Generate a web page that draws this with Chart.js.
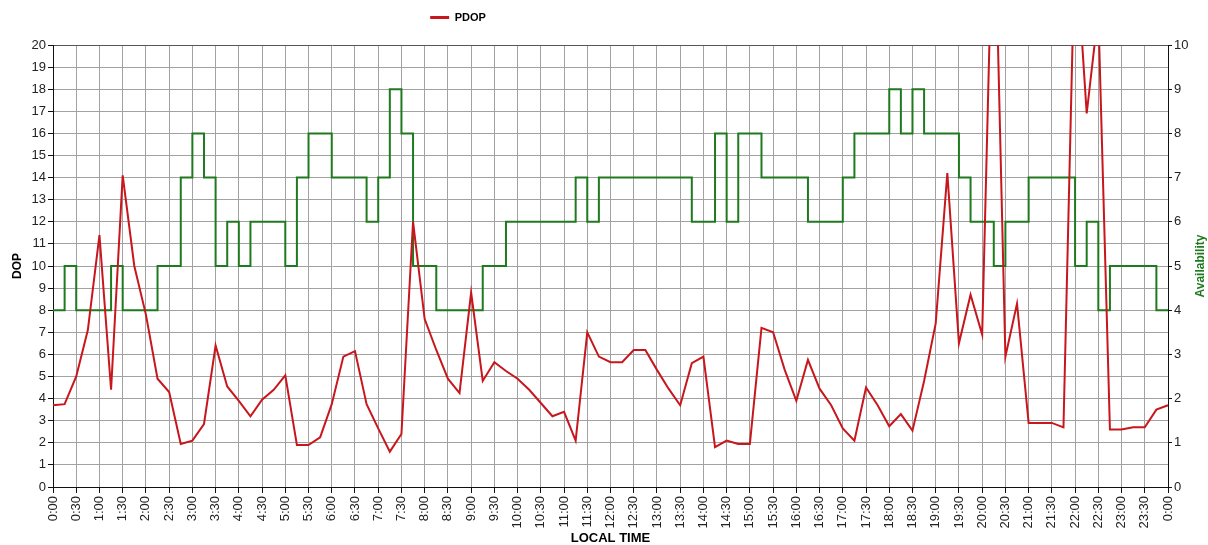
<!DOCTYPE html>
<html>
<head>
<meta charset="utf-8">
<script src="https://cdn.jsdelivr.net/npm/chart.js@4.4.1/dist/chart.umd.min.js"></script>
<style>
  html, body { margin: 0; padding: 0; background: #fff; }
  #wrap { width: 1208px; height: 545px; }
</style>
</head>
<body>
<div id="wrap"><canvas id="chart" width="1208" height="545"></canvas></div>
<script>
"use strict";

// local time, every 15 minutes (labels shown every 30 minutes)
const timeLabels = [
    "0:00", "0:15", "0:30", "0:45", "1:00", "1:15", "1:30", "1:45",
    "2:00", "2:15", "2:30", "2:45", "3:00", "3:15", "3:30", "3:45",
    "4:00", "4:15", "4:30", "4:45", "5:00", "5:15", "5:30", "5:45",
    "6:00", "6:15", "6:30", "6:45", "7:00", "7:15", "7:30", "7:45",
    "8:00", "8:15", "8:30", "8:45", "9:00", "9:15", "9:30", "9:45",
    "10:00", "10:15", "10:30", "10:45", "11:00", "11:15", "11:30", "11:45",
    "12:00", "12:15", "12:30", "12:45", "13:00", "13:15", "13:30", "13:45",
    "14:00", "14:15", "14:30", "14:45", "15:00", "15:15", "15:30", "15:45",
    "16:00", "16:15", "16:30", "16:45", "17:00", "17:15", "17:30", "17:45",
    "18:00", "18:15", "18:30", "18:45", "19:00", "19:15", "19:30", "19:45",
    "20:00", "20:15", "20:30", "20:45", "21:00", "21:15", "21:30", "21:45",
    "22:00", "22:15", "22:30", "22:45", "23:00", "23:15", "23:30", "23:45",
    "0:00"
];

// PDOP (left axis)
const pdop = [
    3.7, 3.75, 5.0, 7.1,
    11.4, 4.4, 14.1, 10.0,
    7.8, 4.9, 4.3, 1.95,
    2.1, 2.85, 6.4, 4.55,
    3.9, 3.2, 3.95, 4.4,
    5.05, 1.9, 1.9, 2.25,
    3.75, 5.9, 6.15, 3.75,
    2.65, 1.6, 2.4, 12.0,
    7.6, 6.2, 4.9, 4.25,
    8.8, 4.8, 5.65, 5.25,
    4.9, 4.4, 3.8, 3.2,
    3.4, 2.1, 7.0, 5.9,
    5.65, 5.65, 6.2, 6.2,
    5.3, 4.45, 3.7, 5.6,
    5.9, 1.8, 2.1, 1.95,
    1.95, 7.2, 7.0, 5.3,
    3.9, 5.75, 4.45, 3.7,
    2.65, 2.1, 4.5, 3.7,
    2.75, 3.3, 2.55, 4.8,
    7.4, 14.2, 6.5, 8.7,
    6.9, 28, 5.9, 8.3,
    2.9, 2.9, 2.9, 2.7,
    25, 16.9, 21.5, 2.6,
    2.6, 2.7, 2.7, 3.5,
    3.7
];

// satellites available (right axis)
const availability = [
    4, 5, 4, 4,
    4, 5, 4, 4,
    4, 5, 5, 7,
    8, 7, 5, 6,
    5, 6, 6, 6,
    5, 7, 8, 8,
    7, 7, 7, 6,
    7, 9, 8, 5,
    5, 4, 4, 4,
    4, 5, 5, 6,
    6, 6, 6, 6,
    6, 7, 6, 7,
    7, 7, 7, 7,
    7, 7, 7, 6,
    6, 8, 6, 8,
    8, 7, 7, 7,
    7, 6, 6, 6,
    7, 8, 8, 8,
    9, 8, 9, 8,
    8, 8, 7, 6,
    6, 5, 6, 6,
    7, 7, 7, 7,
    5, 6, 4, 5,
    5, 5, 5, 4,
    4
];

const RED = "#c8161d";
const GREEN = "#1f7a1f";
const GRID = "#a2a2a2";
const AXIS = "#111";
const FONT = "'Liberation Sans', Arial, sans-serif";
const HIDDEN = "rgba(0,0,0,0)";

Chart.defaults.font.family = FONT;
Chart.defaults.color = "#222";

// right axis title reads bottom-to-top like the left one
const availabilityTitle = {
    id: "availabilityTitle",
    afterDraw(chart) {
        const ctx = chart.ctx;
        const area = chart.chartArea;
        ctx.save();
        ctx.translate(1201, (area.top + area.bottom) / 2);
        ctx.rotate(-Math.PI / 2);
        ctx.font = "bold 12px " + FONT;
        ctx.fillStyle = GREEN;
        ctx.textAlign = "center";
        ctx.textBaseline = "middle";
        ctx.fillText("Availability", 0, 0);
        ctx.restore();
    }
};

// legend sits left of the centre and a bit above the padded top in the original
const legendShift = {
    id: "legendShift",
    afterLayout(chart) {
        const lg = chart.legend;
        lg.left -= 146;
        lg.right -= 146;
        lg.top -= 12;
        lg.bottom -= 12;
    }
};

new Chart(document.getElementById("chart"), {
    type: "line",
    data: {
        labels: timeLabels,
        datasets: [
            {
                label: "PDOP",
                data: pdop,
                yAxisID: "y",
                borderColor: RED,
                backgroundColor: RED,
                borderWidth: 2,
                tension: 0,
                pointRadius: 0,
                pointBorderWidth: 3,
                pointBorderColor: RED,
                fill: false,
            },
            {
                label: "Availability",
                data: availability,
                yAxisID: "y1",
                borderColor: GREEN,
                backgroundColor: GREEN,
                borderWidth: 2,
                stepped: true,
                pointRadius: 0,
                fill: false,
            },
        ],
    },
    options: {
        responsive: false,
        animation: false,
        devicePixelRatio: 1,
        layout: { padding: { top: 13, left: 0, right: 0, bottom: 0 } },
        scales: {
            x: {
                type: "category",
                offset: false,
                border: { color: AXIS, width: 1 },
                grid: {
                    color: (c) => (c.index % 2 ? HIDDEN : GRID),
                    tickColor: (c) => (c.index % 2 ? HIDDEN : AXIS),
                    tickLength: 6,
                },
                ticks: {
                    autoSkip: false,
                    maxRotation: 90,
                    minRotation: 90,
                    padding: 3,
                    font: { size: 13 },
                    callback: function (value, index) {
                        return index % 2 ? "" : timeLabels[index];
                    },
                },
                title: {
                    display: true,
                    text: "LOCAL TIME",
                    color: "#000",
                    padding: 0,
                    font: { size: 13, weight: "bold", lineHeight: 1 },
                },
                afterFit: (s) => { s.height = 58; },
            },
            y: {
                position: "left",
                min: 0,
                max: 20,
                border: { color: AXIS, width: 1 },
                grid: {
                    color: (c) => (c.tick && c.tick.value === 20 ? "#555" : GRID),
                    tickColor: AXIS,
                    tickLength: 5,
                },
                ticks: { stepSize: 1, padding: 2, font: { size: 13 } },
                title: {
                    display: true,
                    text: "DOP",
                    color: "#000",
                    padding: { top: 10, bottom: 0 },
                    font: { size: 12, weight: "bold" },
                },
                afterFit: (s) => { s.width = 53; },
            },
            y1: {
                position: "right",
                min: 0,
                max: 10,
                border: { color: AXIS, width: 1 },
                grid: { drawOnChartArea: false, tickColor: AXIS, tickLength: 4 },
                ticks: { stepSize: 1, padding: 2, font: { size: 13 } },
                afterFit: (s) => { s.width = 40; },
            },
        },
        plugins: {
            legend: {
                position: "top",
                labels: {
                    filter: (item) => item.datasetIndex === 0,
                    usePointStyle: true,
                    pointStyle: "line",
                    pointStyleWidth: 19,
                    padding: 11,
                    color: "#000",
                    font: { size: 11, weight: "bold" },
                },
            },
            tooltip: { enabled: false },
        },
    },
    plugins: [availabilityTitle, legendShift],
});
</script>
</body>
</html>
